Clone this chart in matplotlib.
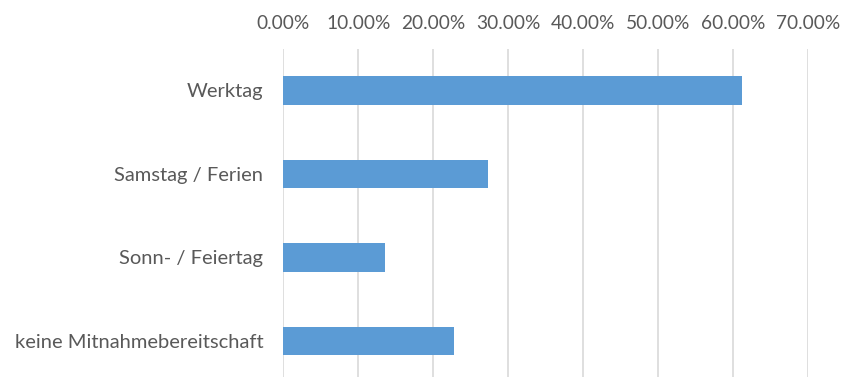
import matplotlib.pyplot as plt
from matplotlib.ticker import PercentFormatter

categories = ["Werktag", "Samstag / Ferien", "Sonn- / Feiertag", "keine Mitnahmebereitschaft"]
values = [61.1, 27.3, 13.5, 22.7]
xticks = [0, 10, 20, 30, 40, 50, 60, 70]

plt.rcParams['font.family'] = ['Lato', 'DejaVu Sans']
text_color = '#595959'

fig = plt.figure(figsize=(8.44, 3.77), dpi=100)
ax = fig.add_axes([283.3 / 844, 0, 525 / 844, 1 - 48.5 / 377])

ypos = range(len(categories))
ax.barh(ypos, values, height=0.34, color='#5B9BD5', zorder=2)

ax.set_xlim(0, 70)
ax.set_ylim(3.43, -0.5)
ax.set_xticks(xticks)
ax.xaxis.set_major_formatter(PercentFormatter(decimals=2))
ax.xaxis.tick_top()
ax.set_yticks(list(ypos))
ax.set_yticklabels(categories)

ax.grid(axis='x', color='#D9D9D9', linewidth=1.2, zorder=0)
for s in ax.spines.values():
    s.set_visible(False)
ax.tick_params(axis='x', length=0, pad=12, labelsize=13.8, colors=text_color)
ax.tick_params(axis='y', length=0, pad=14.5, labelsize=14.5, colors=text_color)

fig.savefig('out.png', dpi=100)
